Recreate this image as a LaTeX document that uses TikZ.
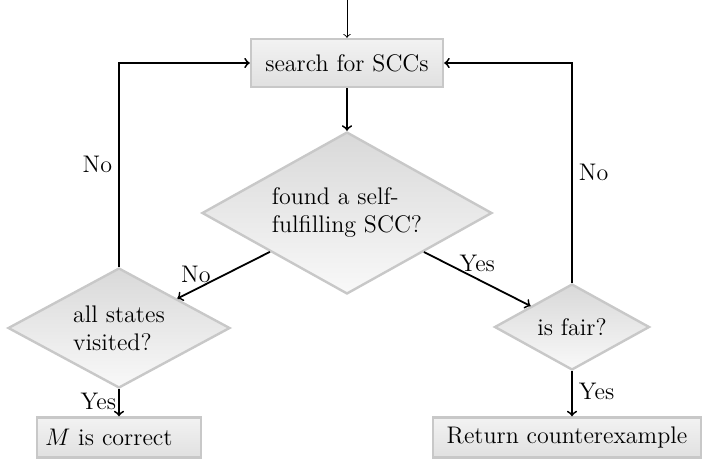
\documentclass[tikz,border=0pt]{standalone}
\usetikzlibrary{shapes.geometric}
\definecolor{bordergray}{RGB}{200,200,200}
\begin{document}
\begin{tikzpicture}[x=0.5pt,y=-0.5pt,
  font=\large,
  procbox/.style={rectangle, draw=bordergray, line width=1.2pt,
    top color=gray!10, bottom color=gray!24, inner sep=2pt},
  decision/.style={diamond, draw=bordergray, line width=1.2pt,
    top color=gray!30, bottom color=gray!5, inner sep=0pt, align=left},
  conn/.style={->, line width=0.9pt},
  lbl/.style={inner sep=3pt}
]
\useasboundingbox (0,0) rectangle (707,460);
\coordinate (start) at (347,0);
\node[procbox, minimum width=96pt, minimum height=24pt] (search) at (347,63) {search for SCCs};
\node[decision, aspect=1.79, minimum width=145pt, minimum height=81pt] (d1) at (347,213) {found a self-\\fulfilling SCC?};
\node[decision, aspect=1.85, minimum width=111pt, minimum height=60pt] (d2) at (119,328) {all states\\visited?};
\node[decision, aspect=1.8, minimum width=77.5pt, minimum height=43pt] (fair) at (572,327) {is fair?};
\node[procbox, minimum width=82pt, minimum height=20pt, text width=74pt, align=left] (correct) at (119,437.5) {$M$ is correct};
\node[procbox, minimum width=134pt, minimum height=20pt] (ret) at (567,437.5) {Return counterexample};

\draw[->, line width=0.45pt] (start) -- (search);
\draw[conn] (search) -- (d1);
\draw[conn] (d1) -- node[lbl, pos=0.8, above] {No} (d2);
\draw[conn] (d1) -- node[lbl, pos=0.5, above] {Yes} (fair);
\draw[conn] (d2.north) |- node[lbl, pos=0.25, left] {No} (search.west);
\draw[conn] (fair.north) |- node[lbl, pos=0.25, right] {No} (search.east);
\draw[conn] (d2.south) -- node[lbl, pos=0.45, left, inner sep=1pt] {Yes} (correct.north);
\draw[conn] (fair.south) -- node[lbl, pos=0.45, right] {Yes} (fair.south |- ret.north);
\end{tikzpicture}
\end{document}
